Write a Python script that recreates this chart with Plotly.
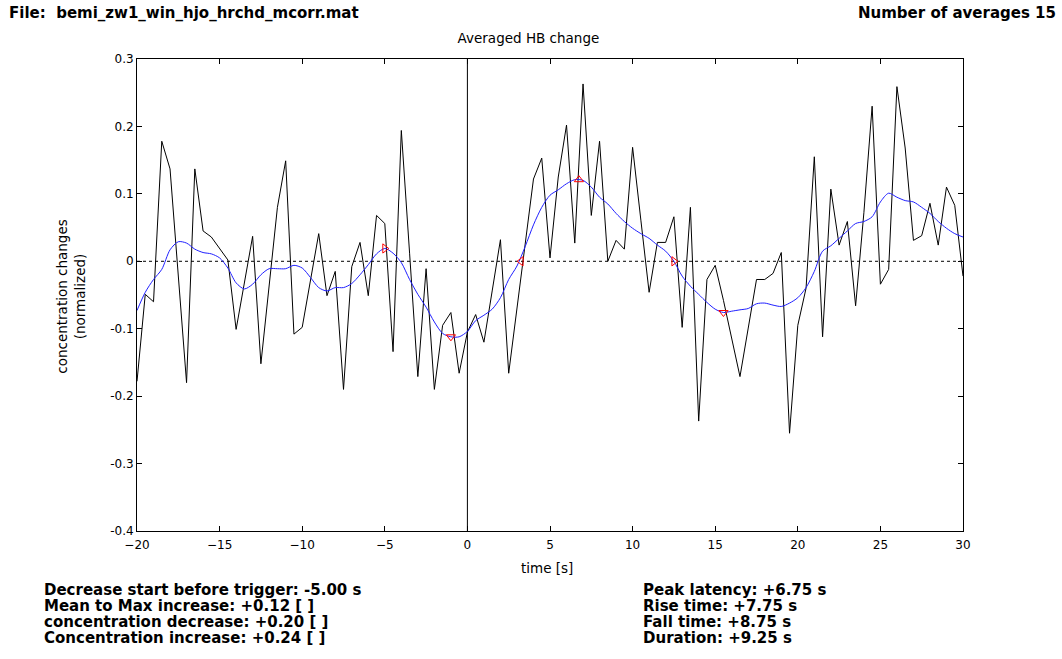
import numpy as np
import plotly.graph_objects as go

# Sampling grid (0.5 s steps from -20 s to 30 s)
time_s = np.arange(-20.0, 30.0 + 0.25, 0.5)

# Averaged HB change (raw average)
hb_average = [
    -0.178, -0.049, -0.060, 0.178, 0.137, -0.025, -0.180, 0.137, 0.045, 0.036,
    0.019, 0.002, -0.101, -0.034, 0.037, -0.152, -0.040, 0.080, 0.149, -0.108,
    -0.098, -0.027, 0.041, -0.051, -0.015, -0.190, -0.008, 0.028, -0.051, 0.068,
    0.056, -0.134, 0.194, 0.012, -0.171, -0.011, -0.190, -0.095, -0.076, -0.166,
    -0.105, -0.079, -0.120, -0.044, 0.032, -0.166, -0.071, 0.023, 0.122, 0.153,
    0.005, 0.125, 0.202, 0.027, 0.263, 0.068, 0.178, 0.000, 0.031, 0.018,
    0.169, 0.061, -0.046, 0.028, 0.028, 0.066, -0.098, 0.080, -0.237, -0.027,
    -0.006, -0.058, -0.112, -0.171, -0.099, -0.027, -0.027, -0.018, 0.013, -0.255,
    -0.095, -0.040, 0.155, -0.112, 0.107, 0.024, 0.059, -0.066, 0.072, 0.230,
    -0.034, -0.012, 0.259, 0.168, 0.031, 0.038, 0.086, 0.024, 0.110, 0.083,
    -0.022,
]

# Smoothed curve
hb_smooth = [
    -0.073, -0.046, -0.027, -0.012, 0.017, 0.029, 0.027, 0.018, 0.013, 0.011,
    0.005, -0.010, -0.032, -0.041, -0.034, -0.020, -0.011, -0.011, -0.011, -0.006,
    -0.010, -0.024, -0.039, -0.044, -0.039, -0.039, -0.033, -0.020, -0.005, 0.011,
    0.019, 0.012, -0.002, -0.027, -0.049, -0.068, -0.090, -0.107, -0.112, -0.112,
    -0.104, -0.088, -0.080, -0.071, -0.054, -0.027, -0.007, 0.022, 0.054, 0.080,
    0.098, 0.106, 0.115, 0.121, 0.120, 0.110, 0.095, 0.085, 0.071, 0.059,
    0.049, 0.041, 0.034, 0.024, 0.015, 0.000, -0.022, -0.037, -0.049, -0.061,
    -0.071, -0.076, -0.074, -0.072, -0.070, -0.063, -0.062, -0.065, -0.067, -0.062,
    -0.054, -0.039, -0.015, 0.015, 0.023, 0.034, 0.045, 0.056, 0.059, 0.066,
    0.088, 0.101, 0.095, 0.090, 0.088, 0.080, 0.071, 0.059, 0.049, 0.041,
    0.036,
]

# Characteristic points on the smoothed curve
event_times = [-5.0, -1.0, 3.25, 6.75, 12.5, 15.5]
event_values = [0.019, -0.112, 0.0, 0.121, 0.0, -0.076]
event_symbols = ["triangle-right-open", "triangle-down-open", "triangle-left-open",
                 "triangle-up-open", "triangle-right-open", "triangle-down-open"]

x_ticks = [-20, -15, -10, -5, 0, 5, 10, 15, 20, 25, 30]
y_ticks = [-0.4, -0.3, -0.2, -0.1, 0, 0.1, 0.2, 0.3]
y_tick_text = ["-0.4", "-0.3", "-0.2", "-0.1", "0", "0.1", "0.2", "0.3"]

file_label = "File:&nbsp; bemi_zw1_win_hjo_hrchd_mcorr.mat"
averages_label = "Number of averages 15"
left_stats = [
    "Decrease start before trigger: -5.00 s",
    "Mean to Max increase: +0.12 [ ]",
    "concentration decrease: +0.20 [ ]",
    "Concentration increase: +0.24 [ ]",
]
right_stats = [
    "Peak latency: +6.75 s",
    "Rise time: +7.75 s",
    "Fall time: +8.75 s",
    "Duration: +9.25 s",
]

W, H = 1062, 659
L, R, T, B = 137, 963, 59, 531.5

def px(xp):
    return (xp - L) / (R - L)

def py(yp):
    return (B - yp) / (B - T)

fig = go.Figure()

fig.add_trace(go.Scatter(x=time_s, y=hb_average, mode="lines",
                         line=dict(color="black", width=1), showlegend=False))
fig.add_trace(go.Scatter(x=time_s, y=hb_smooth, mode="lines",
                         line=dict(color="#1f1fff", width=1, shape="spline", smoothing=0.8),
                         showlegend=False))
fig.add_trace(go.Scatter(x=event_times, y=event_values, mode="markers",
                         marker=dict(symbol=event_symbols, size=8, color="red",
                                     line=dict(color="red", width=1)),
                         showlegend=False))

# zero reference and trigger line
fig.add_shape(type="line", xref="x", yref="y", x0=-20, x1=30, y0=0, y1=0,
              line=dict(color="black", width=1, dash="dot"), layer="below")
fig.add_shape(type="line", xref="x", yref="y", x0=0, x1=0, y0=-0.4, y1=0.3,
              line=dict(color="black", width=1), layer="below")

tick_font = dict(family="DejaVu Sans, sans-serif", size=12, color="black")
label_font = dict(family="DejaVu Sans, sans-serif", size=13.5, color="black")
bold_font = dict(family="DejaVu Sans, sans-serif", size=15, color="black")

fig.update_layout(
    width=W, height=H,
    margin=dict(l=L, r=W - R, t=T, b=H - B, pad=0),
    paper_bgcolor="white", plot_bgcolor="white",
    xaxis=dict(range=[-20, 30], tickvals=x_ticks, ticks="inside", ticklen=5,
               tickcolor="black", showline=True, linecolor="black", linewidth=1,
               mirror="ticks", showgrid=False, zeroline=False, tickfont=tick_font,
               ticklabelstandoff=3),
    yaxis=dict(range=[-0.4, 0.3], tickvals=y_ticks, ticktext=y_tick_text,
               ticks="inside", ticklen=5, tickcolor="black", showline=True,
               linecolor="black", linewidth=1, mirror="ticks", showgrid=False,
               zeroline=False, tickfont=tick_font),
    title=dict(text="Averaged HB change", font=label_font, x=px(548), xanchor="center",
               y=1 - 38 / H, yanchor="middle"),
)

ann = []
# axis titles
ann.append(dict(text="time [s]", x=px(547), y=py(569), xref="paper", yref="paper",
                xanchor="center", yanchor="middle", showarrow=False, font=label_font))
ann.append(dict(text="concentration changes<br>(normalized)", x=px(71), y=py(297),
                xref="paper", yref="paper", xanchor="center", yanchor="middle",
                textangle=-90, showarrow=False, font=label_font))
# header lines
ann.append(dict(text="<b>" + file_label + "</b>", x=px(7), y=py(13), xref="paper",
                yref="paper", xanchor="left", yanchor="middle", showarrow=False,
                font=bold_font))
ann.append(dict(text="<b>" + averages_label + "</b>", x=px(1058), y=py(13), xref="paper",
                yref="paper", xanchor="right", yanchor="middle", showarrow=False,
                font=bold_font))
# summary statistics below the axes
for i, line in enumerate(left_stats):
    ann.append(dict(text="<b>" + line + "</b>", x=px(42), y=py(590.5 + 16 * i),
                    xref="paper", yref="paper", xanchor="left", yanchor="middle",
                    showarrow=False, font=bold_font))
for i, line in enumerate(right_stats):
    ann.append(dict(text="<b>" + line + "</b>", x=px(641), y=py(590.5 + 16 * i),
                    xref="paper", yref="paper", xanchor="left", yanchor="middle",
                    showarrow=False, font=bold_font))
fig.update_layout(annotations=ann)

fig.write_html("out.html")
